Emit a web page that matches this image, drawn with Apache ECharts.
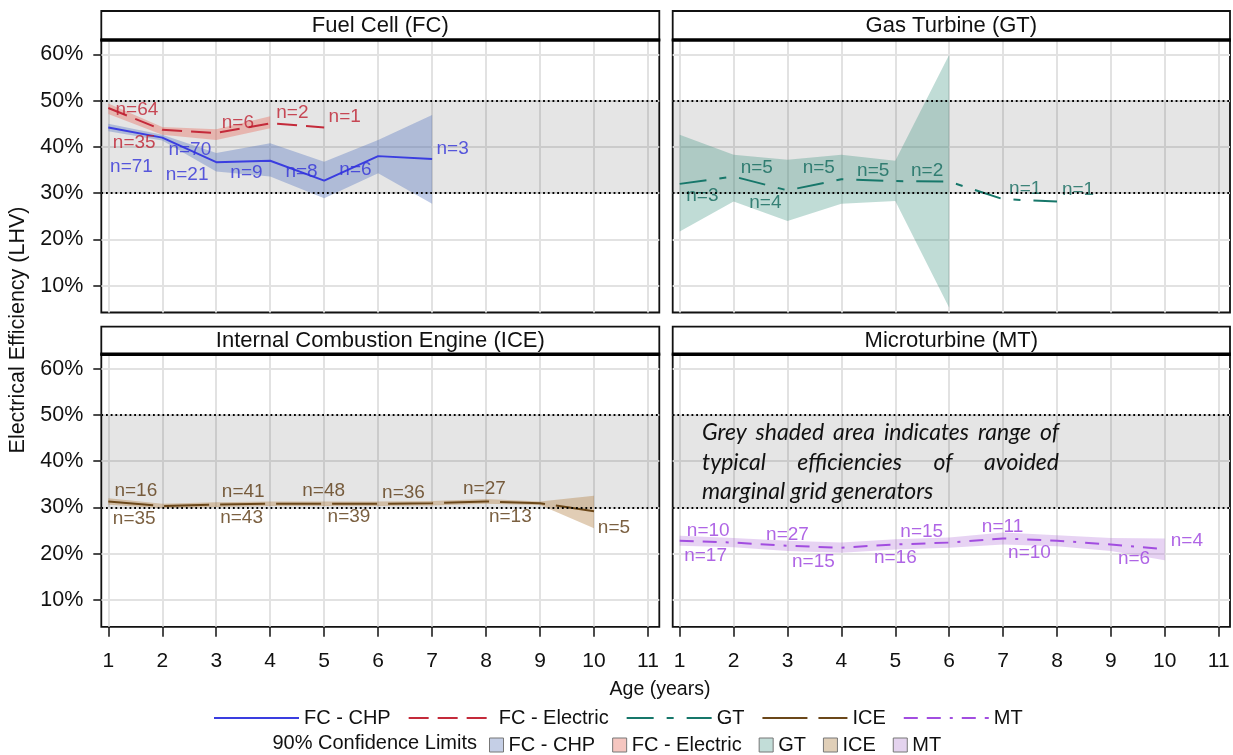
<!DOCTYPE html>
<html>
<head>
<meta charset="utf-8">
<title>Electrical Efficiency by Age</title>
<script src="https://cdn.jsdelivr.net/npm/echarts@6/dist/echarts.min.js"></script>
<style>
  html, body { margin: 0; padding: 0; background: #ffffff; }
  #chart { width: 1233px; height: 755px; }
</style>
</head>
<body>
<div id="chart"></div>
<script>
// ---------- data ----------
const xTicks = [1, 2, 3, 4, 5, 6, 7, 8, 9, 10, 11];
const yTicks = [10, 20, 30, 40, 50, 60];
const panelTitles = ['Fuel Cell (FC)', 'Gas Turbine (GT)', 'Internal Combustion Engine (ICE)', 'Microturbine (MT)'];
const typicalRange = [30, 50];

const fcChpAge  = [1, 2, 3, 4, 5, 6, 7];
const fcChpEff  = [44.2, 42.0, 36.7, 37.0, 32.7, 38.0, 37.4];
const fcChpLow  = [43.4, 41.4, 34.7, 33.6, 28.9, 34.3, 27.7];
const fcChpHigh = [45.0, 42.6, 38.7, 40.8, 36.8, 41.5, 46.9];
const fcChpN    = [71, 70, 21, 9, 8, 6, 3];

const fcElecAge  = [1, 2, 3, 4, 5];
const fcElecEff  = [48.4, 43.7, 43.0, 45.1, 44.2];
const fcElecCiAge = [1, 2, 3, 4];
const fcElecLow  = [47.1, 42.6, 41.5, 44.0];
const fcElecHigh = [49.4, 44.3, 43.8, 46.6];
const fcElecN    = [64, 35, 6, 2, 1];

const gtAge   = [1, 2, 3, 4, 5, 6, 7, 8];
const gtEff   = [32.0, 33.6, 30.6, 33.0, 32.6, 32.5, 28.7, 28.2];
const gtCiAge = [1, 2, 3, 4, 5, 6];
const gtLow   = [21.7, 28.2, 24.0, 27.7, 28.3, 5.2];
const gtHigh  = [42.6, 38.3, 37.2, 38.3, 37.0, 59.9];
const gtN     = [3, 5, 4, 5, 5, 2, 1, 1];

const iceAge  = [1, 2, 3, 4, 5, 6, 7, 8, 9, 10];
const iceEff  = [31.3, 30.3, 30.6, 30.8, 30.8, 30.8, 30.9, 31.3, 30.9, 29.2];
const iceLow  = [30.6, 29.8, 30.1, 30.3, 30.3, 30.3, 30.4, 30.8, 30.5, 25.5];
const iceHigh = [32.0, 30.8, 31.1, 31.3, 31.3, 31.3, 31.4, 31.8, 31.3, 32.5];
const iceN    = [16, 35, 41, 43, 48, 39, 36, 27, 13, 5];

const mtAge  = [1, 2, 3, 4, 5, 6, 7, 8, 9, 10];
const mtEff  = [22.8, 22.4, 21.7, 21.3, 22.0, 22.4, 23.3, 22.8, 22.0, 21.0];
const mtLow  = [21.7, 21.4, 20.6, 20.2, 20.9, 21.3, 22.0, 21.6, 20.6, 18.6];
const mtHigh = [23.9, 23.4, 22.8, 22.4, 23.1, 23.5, 24.6, 24.0, 23.4, 23.3];
const mtN    = [10, 17, 27, 15, 16, 15, 11, 10, 6, 4];

const noteLines = [
  'Grey shaded area indicates range of',
  'typical efficiencies of avoided',
  'marginal grid generators'
];

// ---------- layout & styles ----------
const FONT = '"Liberation Sans", Arial, sans-serif';
const GRID = [
  { left: 101.3, top: 40,    width: 558,   height: 272.5, headTop: 11 },
  { left: 672.7, top: 40,    width: 557.3, height: 272.5, headTop: 11 },
  { left: 101.3, top: 354.3, width: 558,   height: 272.5, headTop: 326.7 },
  { left: 672.7, top: 354.3, width: 557.3, height: 272.5, headTop: 326.7 }
];
const X_MIN = 0.87, X_MAX = 11.21, Y_MIN = 4.2, Y_MAX = 63.1;

// where each "n=" count label sits, in [age, efficiency] units
const fcChpLabelAt  = [[1.43, 35.8], [2.51, 39.4], [2.46, 34.0], [3.56, 34.3], [4.58, 34.7], [5.58, 35.0], [7.38, 39.6]];
const fcElecLabelAt = [[1.53, 48.0], [1.48, 40.8], [3.40, 45.2], [4.41, 47.3], [5.38, 46.4]];
const gtLabelAt     = [[1.42, 29.4], [2.43, 35.4], [2.59, 27.9], [3.58, 35.4], [4.59, 34.9], [5.59, 34.9], [7.41, 30.9], [8.39, 30.7]];
const iceLabelAt    = [[1.51, 33.7], [1.48, 27.5], [3.50, 33.4], [3.47, 27.7], [4.99, 33.6], [5.46, 27.9], [6.47, 33.2], [7.97, 34.1], [8.45, 27.9], [10.37, 25.6]];
const mtLabelAt     = [[1.53, 25.0], [1.48, 19.5], [3.00, 24.1], [3.48, 18.3], [5.00, 19.1], [5.49, 24.7], [6.99, 25.8], [7.49, 20.2], [9.43, 18.9], [10.41, 22.9]];

const STYLE = {
  fcChp:  { color: '#3a3de0', text: '#3232d8', dash: 'solid',              band: 'rgba(86,118,192,0.38)',  swatch: '#c5cfe6' },
  fcElec: { color: '#c42a3a', text: '#be1f30', dash: [20, 9],              band: 'rgba(232,110,96,0.40)',  swatch: '#f5c6c0' },
  gt:     { color: '#17776a', text: '#12695d', dash: [27, 13, 7, 13],      band: 'rgba(64,148,130,0.33)',  swatch: '#c2ddd8' },
  ice:    { color: '#6b4719', text: '#5a3812', dash: [45, 11],             band: 'rgba(176,124,60,0.38)',  swatch: '#e0cfb8' },
  mt:     { color: '#a24de0', text: '#9b3fdf', dash: [14, 9, 14, 9, 3, 9], band: 'rgba(176,110,214,0.30)', swatch: '#e4d3ee' }
};

// ---------- builders ----------
function lineSeries(name, idx, xs, ys, st, extra) {
  return Object.assign({
    type: 'line', name, xAxisIndex: idx, yAxisIndex: idx, z: 3,
    symbol: 'none', showSymbol: false, silent: true, animation: false,
    data: xs.map((x, i) => [x, ys[i]]),
    itemStyle: { color: st.color },
    lineStyle: { color: st.color, width: 2, type: st.dash }
  }, extra || {});
}

function bandSeries(name, idx, xs, lo, hi, st) {
  return {
    type: 'custom', name, xAxisIndex: idx, yAxisIndex: idx, z: 2,
    silent: true, animation: false, clip: true,
    itemStyle: { color: st.swatch },
    data: xs.map((x, i) => [x, lo[i], hi[i]]),
    encode: { x: 0, y: [1, 2] },
    renderItem(params, api) {
      if (params.dataIndex !== 0) return null;
      const upper = xs.map((x, i) => api.coord([x, hi[i]]));
      const lower = xs.map((x, i) => api.coord([x, lo[i]])).reverse();
      return { type: 'polygon', shape: { points: upper.concat(lower) }, style: { fill: st.band } };
    }
  };
}

function countSeries(idx, counts, at, st) {
  return {
    type: 'scatter', xAxisIndex: idx, yAxisIndex: idx, z: 4,
    silent: true, animation: false,
    symbol: 'circle', symbolSize: 0.1,
    itemStyle: { color: 'rgba(0,0,0,0)' },
    data: counts.map((n, i) => ({ name: 'n=' + n, value: at[i] })),
    label: {
      show: true, position: 'inside', formatter: p => p.name,
      color: st.text, fontSize: 19, fontFamily: FONT
    }
  };
}

// grey range of typical grid-generator efficiency with dotted bounds
function rangeMarks() {
  return {
    markArea: {
      silent: true,
      itemStyle: { color: 'rgba(0,0,0,0.10)' },
      data: [[{ yAxis: typicalRange[0] }, { yAxis: typicalRange[1] }]]
    },
    markLine: {
      silent: true, symbol: 'none', label: { show: false },
      lineStyle: { color: '#000', width: 1.8, type: [1.8, 2.9] },
      data: typicalRange.map(v => ({ yAxis: v }))
    }
  };
}

const grids = GRID.map(g => ({
  left: g.left, top: g.top, width: g.width, height: g.height,
  show: true, borderColor: '#111', borderWidth: 1.8, backgroundColor: 'transparent'
}));

const xAxes = GRID.map((g, i) => ({
  type: 'value', gridIndex: i, min: X_MIN, max: X_MAX,
  axisLine: { show: false },
  axisTick: { show: i >= 2, customValues: xTicks, length: 10, lineStyle: { color: '#111', width: 1.5 } },
  axisLabel: { show: i >= 2, customValues: xTicks, margin: 24, fontSize: 21, color: '#111', fontFamily: FONT },
  splitLine: { show: true, lineStyle: { color: '#e2e2e2', width: 2 } }
}));

const yAxes = GRID.map((g, i) => ({
  type: 'value', gridIndex: i, min: Y_MIN, max: Y_MAX,
  axisLine: { show: false },
  axisTick: { show: i % 2 === 0, customValues: yTicks, length: 8, lineStyle: { color: '#111', width: 1.5 } },
  axisLabel: { show: i % 2 === 0, customValues: yTicks, margin: 18, fontSize: 21.5, color: '#111', fontFamily: FONT,
               formatter: v => v + '%' },
  splitLine: { show: true, lineStyle: { color: '#e2e2e2', width: 2 } }
}));

const series = [
  // Fuel Cell panel
  bandSeries('FC - CHP CI', 0, fcChpAge, fcChpLow, fcChpHigh, STYLE.fcChp),
  bandSeries('FC - Electric CI', 0, fcElecCiAge, fcElecLow, fcElecHigh, STYLE.fcElec),
  lineSeries('FC - CHP', 0, fcChpAge, fcChpEff, STYLE.fcChp, rangeMarks()),
  lineSeries('FC - Electric', 0, fcElecAge, fcElecEff, STYLE.fcElec),
  countSeries(0, fcChpN, fcChpLabelAt, STYLE.fcChp),
  countSeries(0, fcElecN, fcElecLabelAt, STYLE.fcElec),
  // Gas Turbine panel
  bandSeries('GT CI', 1, gtCiAge, gtLow, gtHigh, STYLE.gt),
  lineSeries('GT', 1, gtAge, gtEff, STYLE.gt, rangeMarks()),
  countSeries(1, gtN, gtLabelAt, STYLE.gt),
  // Internal Combustion Engine panel
  bandSeries('ICE CI', 2, iceAge, iceLow, iceHigh, STYLE.ice),
  lineSeries('ICE', 2, iceAge, iceEff, STYLE.ice, rangeMarks()),
  countSeries(2, iceN, iceLabelAt, STYLE.ice),
  // Microturbine panel
  bandSeries('MT CI', 3, mtAge, mtLow, mtHigh, STYLE.mt),
  lineSeries('MT', 3, mtAge, mtEff, STYLE.mt, rangeMarks()),
  countSeries(3, mtN, mtLabelAt, STYLE.mt)
];

// ---------- panel headers, axis titles and note ----------
const graphics = [];
GRID.forEach((g, i) => {
  graphics.push({
    type: 'rect', silent: true, z: 10,
    shape: { x: g.left, y: g.headTop, width: g.width, height: g.top - g.headTop },
    style: { fill: '#fff', stroke: '#111', lineWidth: 1.8 }
  });
  graphics.push({
    type: 'line', silent: true, z: 11,
    shape: { x1: g.left - 0.9, y1: g.top, x2: g.left + g.width + 0.9, y2: g.top },
    style: { stroke: '#000', lineWidth: 3.4 }
  });
  graphics.push({
    type: 'text', silent: true, z: 12,
    x: g.left + g.width / 2, y: (g.headTop + g.top) / 2 + 0.5,
    style: { text: panelTitles[i], fill: '#111', font: '22px ' + FONT, align: 'center', verticalAlign: 'middle' }
  });
});

graphics.push({
  type: 'text', silent: true, x: 18, y: 330, rotation: Math.PI / 2,
  style: { text: 'Electrical Efficiency (LHV)', fill: '#111', font: '21.5px ' + FONT, align: 'center', verticalAlign: 'middle' }
});
graphics.push({
  type: 'text', silent: true, x: 660, y: 690,
  style: { text: 'Age (years)', fill: '#111', font: '19.5px ' + FONT, align: 'center', verticalAlign: 'middle' }
});
graphics.push({
  type: 'text', silent: true, x: 477, y: 743,
  style: { text: '90% Confidence Limits', fill: '#111', font: '20px ' + FONT, align: 'right', verticalAlign: 'middle' }
});

// justified italic note inside the microturbine panel
(function addNote() {
  const noteFont = 'italic 23px Lato, "Open Sans", sans-serif';
  const ctx = document.createElement('canvas').getContext('2d');
  ctx.font = noteFont;
  const x0 = 702, x1 = 1059, lineY = [433, 463, 492];
  noteLines.forEach((line, li) => {
    const words = line.split(' ');
    const last = li === noteLines.length - 1;
    const widths = words.map(w => ctx.measureText(w).width);
    const total = widths.reduce((a, b) => a + b, 0);
    const gap = last ? ctx.measureText(' ').width : (x1 - x0 - total) / (words.length - 1);
    let x = x0;
    words.forEach((w, wi) => {
      graphics.push({
        type: 'text', silent: true, z: 12, x, y: lineY[li],
        style: { text: w, fill: '#111', font: noteFont, align: 'left', verticalAlign: 'middle' }
      });
      x += widths[wi] + gap;
    });
  });
})();

const hiddenMarker = { color: 'rgba(0,0,0,0)', borderWidth: 0 };

const option = {
  backgroundColor: '#fff',
  animation: false,
  grid: grids,
  xAxis: xAxes,
  yAxis: yAxes,
  legend: [
    {
      left: 213, top: 708, padding: 0, itemWidth: 85, itemHeight: 14, itemGap: 17, selectedMode: false,
      textStyle: { fontSize: 20, color: '#111', fontFamily: FONT },
      data: ['FC - CHP', 'FC - Electric', 'GT', 'ICE', 'MT'].map(name => ({ name, itemStyle: hiddenMarker }))
    },
    {
      left: 489, top: 735, padding: 0, itemWidth: 14, itemHeight: 14, itemGap: 17, selectedMode: false,
      icon: 'rect',
      textStyle: { fontSize: 20, color: '#111', fontFamily: FONT },
      formatter: name => name.replace(' CI', ''),
      data: [
        { name: 'FC - CHP CI',      itemStyle: { color: STYLE.fcChp.swatch,  borderColor: '#777', borderWidth: 1 } },
        { name: 'FC - Electric CI', itemStyle: { color: STYLE.fcElec.swatch, borderColor: '#777', borderWidth: 1 } },
        { name: 'GT CI',            itemStyle: { color: STYLE.gt.swatch,     borderColor: '#777', borderWidth: 1 } },
        { name: 'ICE CI',           itemStyle: { color: STYLE.ice.swatch,    borderColor: '#777', borderWidth: 1 } },
        { name: 'MT CI',            itemStyle: { color: STYLE.mt.swatch,     borderColor: '#777', borderWidth: 1 } }
      ]
    }
  ],
  graphic: graphics,
  series
};

const chart = echarts.init(document.getElementById('chart'), null, { renderer: 'canvas' });
chart.setOption(option);
</script>
</body>
</html>
